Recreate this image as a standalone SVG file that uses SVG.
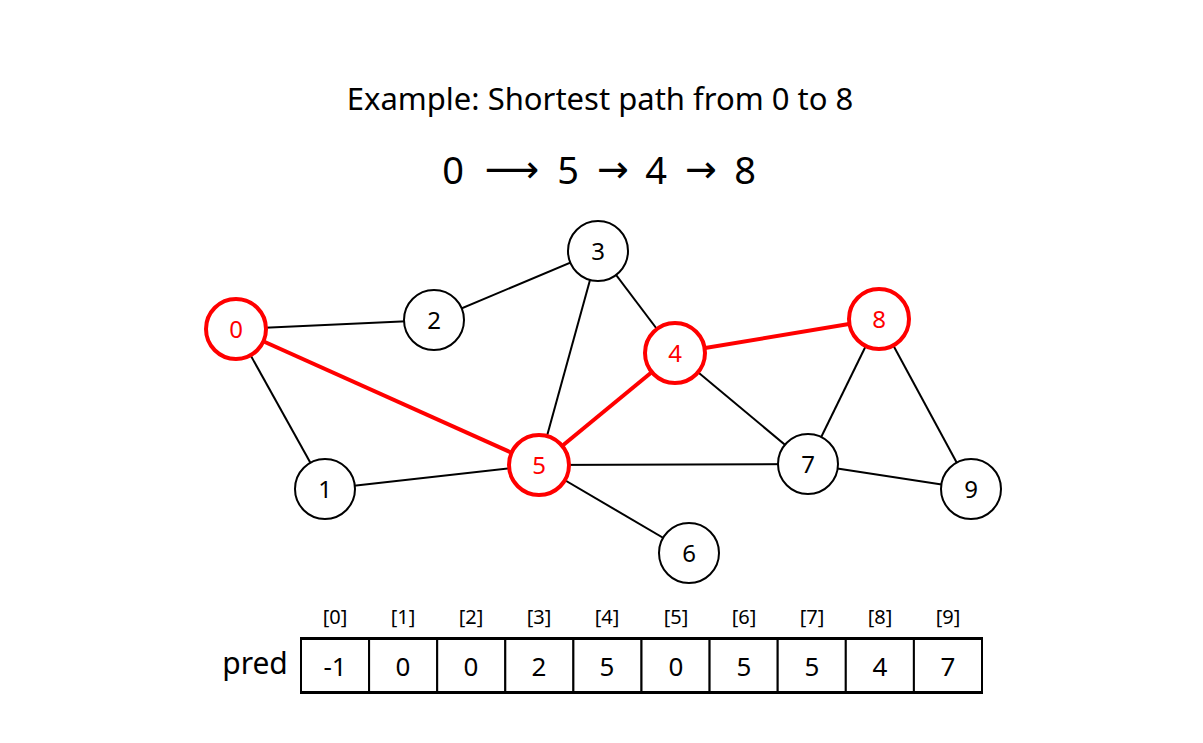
<svg xmlns="http://www.w3.org/2000/svg" width="1203" height="743" viewBox="0 0 1203 743">
<style>
text{font-family:"Noto Sans","DejaVu Sans",sans-serif;text-anchor:middle;fill:#000}
.e{stroke:#000;stroke-width:2;fill:none}
.r{stroke:#f00;stroke-width:4;fill:none}
.n circle{fill:#fff;stroke:#000;stroke-width:2}
.n text{font-size:24px}
.h circle{stroke:#f00;stroke-width:4}
.h text{fill:#f00}
.c{fill:#fff;stroke:#000;stroke-width:2}
.v{font-size:26px}
.i{font-size:20px}
.p{font-size:38px}
.a{font-size:38px;font-family:"DejaVu Sans",sans-serif}
</style>
<rect width="1203" height="743" fill="#fff"/>
<text x="600" y="110" font-size="31">Example: Shortest path from 0 to 8</text>
<text class="p" x="453" y="184">0</text>
<text class="a" x="512" y="182" transform="translate(512 0) scale(1.0 1) translate(-512 0)">⟶</text>
<text class="p" x="568" y="184">5</text>
<text class="a" x="613" y="182">→</text>
<text class="p" x="656" y="184">4</text>
<text class="a" x="701" y="182">→</text>
<text class="p" x="745" y="184">8</text>
<g id="connectors">
<line class="e" x1="236" y1="329" x2="434" y2="320"/>
<line class="e" x1="236" y1="329" x2="325" y2="489"/>
<line class="e" x1="434" y1="320" x2="598" y2="251"/>
<line class="e" x1="598" y1="251" x2="675" y2="353"/>
<line class="e" x1="598" y1="251" x2="539" y2="465"/>
<line class="e" x1="675" y1="353" x2="808" y2="464"/>
<line class="e" x1="325" y1="489" x2="539" y2="465"/>
<line class="e" x1="539" y1="465" x2="808" y2="464"/>
<line class="e" x1="539" y1="465" x2="689" y2="553"/>
<line class="e" x1="879" y1="319" x2="808" y2="464"/>
<line class="e" x1="879" y1="319" x2="971" y2="489"/>
<line class="e" x1="808" y1="464" x2="971" y2="489"/>
<line class="r" x1="236" y1="329" x2="539" y2="465"/>
<line class="r" x1="539" y1="465" x2="675" y2="353"/>
<line class="r" x1="675" y1="353" x2="879" y2="319"/>
</g>
<g id="n0" class="n h"><circle cx="236" cy="329" r="30"/><text x="236" y="338">0</text></g>
<g id="n1" class="n"><circle cx="325" cy="489" r="30"/><text x="325" y="498">1</text></g>
<g id="n2" class="n"><circle cx="434" cy="320" r="30"/><text x="434" y="329">2</text></g>
<g id="n3" class="n"><circle cx="598" cy="251" r="30"/><text x="598" y="260">3</text></g>
<g id="n4" class="n h"><circle cx="675" cy="353" r="30"/><text x="675" y="362">4</text></g>
<g id="n5" class="n h"><circle cx="539" cy="465" r="30"/><text x="539" y="474">5</text></g>
<g id="n6" class="n"><circle cx="689" cy="553" r="30"/><text x="689" y="562">6</text></g>
<g id="n7" class="n"><circle cx="808" cy="464" r="30"/><text x="808" y="473">7</text></g>
<g id="n8" class="n h"><circle cx="879" cy="319" r="30"/><text x="879" y="328">8</text></g>
<g id="n9" class="n"><circle cx="971" cy="489" r="30"/><text x="971" y="498">9</text></g>
<g id="pred">
<text x="255" y="674" font-size="30">pred</text>
<rect class="c" x="301" y="639" width="68.1" height="53"/>
<rect class="c" x="369.1" y="639" width="68.1" height="53"/>
<rect class="c" x="437.2" y="639" width="68.1" height="53"/>
<rect class="c" x="505.3" y="639" width="68.1" height="53"/>
<rect class="c" x="573.4" y="639" width="68.1" height="53"/>
<rect class="c" x="641.5" y="639" width="68.1" height="53"/>
<rect class="c" x="709.6" y="639" width="68.1" height="53"/>
<rect class="c" x="777.7" y="639" width="68.1" height="53"/>
<rect class="c" x="845.8" y="639" width="68.1" height="53"/>
<rect class="c" x="913.9" y="639" width="68.1" height="53"/>
<line x1="300" y1="638.5" x2="983" y2="638.5" stroke="#000" stroke-width="3"/>
<line x1="300" y1="692.5" x2="983" y2="692.5" stroke="#000" stroke-width="3"/>
<g class="v">
<text x="335" y="676">-1</text><text x="403" y="676">0</text><text x="471" y="676">0</text><text x="539" y="676">2</text><text x="607" y="676">5</text><text x="676" y="676">0</text><text x="744" y="676">5</text><text x="812" y="676">5</text><text x="880" y="676">4</text><text x="948" y="676">7</text>
</g>
<g class="i">
<text x="335" y="624">[0]</text><text x="403" y="624">[1]</text><text x="471" y="624">[2]</text><text x="539" y="624">[3]</text><text x="607" y="624">[4]</text><text x="676" y="624">[5]</text><text x="744" y="624">[6]</text><text x="812" y="624">[7]</text><text x="880" y="624">[8]</text><text x="948" y="624">[9]</text>
</g>
</g>
</svg>
